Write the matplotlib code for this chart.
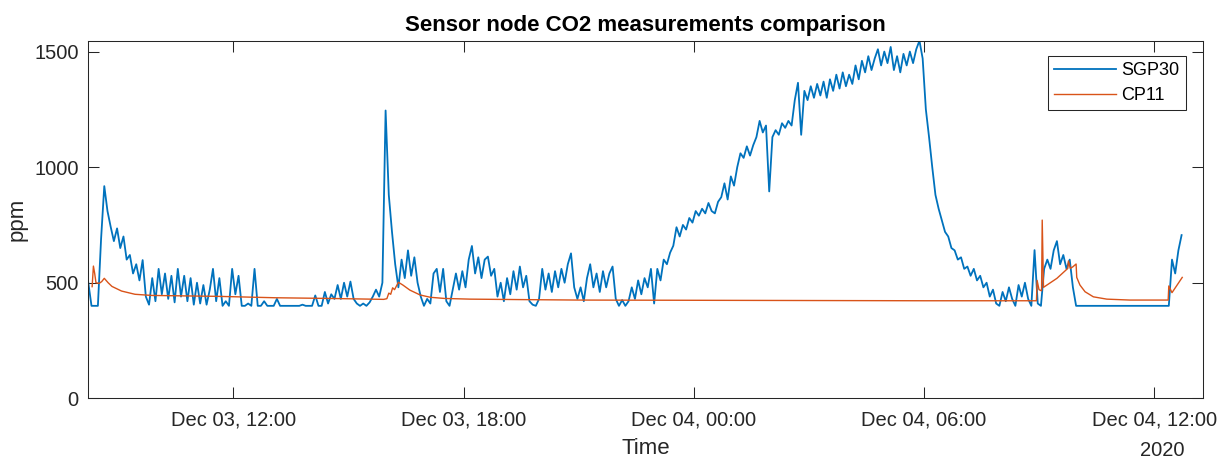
import matplotlib.pyplot as plt
import matplotlib.dates as mdates
import pandas as pd

plt.rcParams['font.family'] = ['Liberation Sans', 'DejaVu Sans']

# SGP30 readings, one every 5 minutes starting at 08:13 on Dec 03
SGP_START = '2020-12-03 08:13'
SGP_STEP = '5min'
sgp30 = [
    500, 400, 400, 400, 690, 918, 810, 742, 680, 735, 650, 700, 600, 620, 540, 580,
    510, 598, 440, 405, 520, 420, 560, 450, 540, 430, 530, 415, 560, 440, 530, 420,
    520, 405, 500, 410, 490, 405, 470, 560, 420, 520, 400, 420, 400, 560, 450, 530,
    400, 400, 410, 400, 560, 400, 400, 420, 400, 400, 400, 430, 400, 400, 400, 400,
    400, 400, 400, 405, 400, 400, 400, 445, 400, 400, 460, 410, 450, 430, 490, 430,
    500, 440, 505, 430, 410, 400, 410, 400, 415, 440, 470, 440, 500, 1245, 880, 720,
    580, 480, 600, 520, 640, 530, 610, 500, 440, 400, 430, 410, 540, 560, 460, 560,
    420, 400, 470, 540, 470, 550, 480, 600, 659, 540, 610, 520, 600, 613, 530, 560,
    440, 500, 420, 520, 450, 550, 470, 570, 480, 530, 420, 405, 400, 430, 560, 470,
    540, 460, 550, 480, 560, 500, 580, 627, 480, 430, 480, 420, 520, 580, 480, 540,
    460, 550, 480, 540, 570, 430, 400, 425, 400, 420, 480, 430, 510, 450, 520, 480,
    560, 410, 560, 510, 600, 580, 630, 660, 740, 700, 750, 730, 780, 760, 810, 790,
    820, 800, 845, 810, 800, 850, 870, 930, 860, 960, 920, 1000, 1060, 1040, 1090, 1050,
    1095, 1130, 1200, 1150, 1180, 895, 1130, 1160, 1140, 1190, 1170, 1200, 1180, 1290, 1365, 1140,
    1330, 1290, 1350, 1300, 1360, 1310, 1370, 1300, 1380, 1330, 1400, 1340, 1410, 1350, 1400, 1360,
    1440, 1380, 1460, 1410, 1480, 1420, 1470, 1510, 1440, 1500, 1450, 1520, 1420, 1480, 1410, 1490,
    1440, 1500, 1450, 1510, 1547, 1470, 1250, 1130, 1000, 880, 820, 770, 720, 700, 650, 640,
    600, 610, 560, 570, 530, 560, 510, 530, 480, 500, 440, 470, 410, 400, 460, 420,
    480, 430, 400, 490, 440, 500, 430, 400, 641, 410, 400, 560, 600, 560, 640, 680,
    580, 620, 560, 600, 480, 400, 400, 400, 400, 400, 400, 400, 400, 400, 400, 400,
    400, 400, 400, 400, 400, 400, 400, 400, 400, 400, 400, 400, 400, 400, 400, 400,
    400, 400, 400, 600, 540, 640, 706,
]

# CP11 readings (smooth reference sensor)
cp11_time = [
    '12-03 08:19', '12-03 08:21', '12-03 08:23', '12-03 08:25', '12-03 08:30',
    '12-03 08:34', '12-03 08:38', '12-03 08:44', '12-03 08:50', '12-03 09:05',
    '12-03 09:26', '12-03 09:52', '12-03 10:44', '12-03 11:36', '12-03 13:05',
    '12-03 14:30', '12-03 15:55', '12-03 16:00', '12-03 16:03', '12-03 16:06',
    '12-03 16:09', '12-03 16:12', '12-03 16:18', '12-03 16:25', '12-03 16:36',
    '12-03 16:52', '12-03 17:08', '12-03 17:30', '12-03 18:10', '12-03 19:30',
    '12-03 21:00', '12-04 00:00', '12-04 03:00', '12-04 06:00', '12-04 08:56',
    '12-04 08:57', '12-04 09:00', '12-04 09:04', '12-04 09:05', '12-04 09:07',
    '12-04 09:28', '12-04 09:45', '12-04 09:46', '12-04 09:49', '12-04 09:53',
    '12-04 09:58', '12-04 09:59', '12-04 10:04', '12-04 10:12', '12-04 10:25',
    '12-04 10:46', '12-04 11:22', '12-04 12:22', '12-04 12:23', '12-04 12:28',
    '12-04 12:44',
]
cp11_ppm = [
    483, 572, 540, 500, 497,
    505, 519, 500, 484, 464,
    450, 445, 443, 441, 435,
    432, 428, 431, 455, 450,
    478, 470, 502, 490, 468,
    447, 437, 432, 429, 427,
    425, 424, 423, 422, 422,
    510, 470, 465, 771, 480,
    519, 562, 594, 562, 569,
    581, 523, 490, 461, 439,
    429, 425, 425, 486, 457,
    523,
]

x_ticks = ['2020-12-03 12:00', '2020-12-03 18:00', '2020-12-04 00:00',
           '2020-12-04 06:00', '2020-12-04 12:00']
y_ticks = [0, 500, 1000, 1500]
x_range = ('2020-12-03 08:13', '2020-12-04 13:16')
y_range = (0, 1547)

t_sgp = pd.date_range(SGP_START, periods=len(sgp30), freq=SGP_STEP)
t_cp = pd.to_datetime(['2020-' + s for s in cp11_time])

INK = '#262626'

fig = plt.figure(figsize=(12.25, 4.59), dpi=100)
ax = fig.add_axes([0.07208, 0.13224, 0.90971, 0.77908])

ax.plot(t_sgp, sgp30, color='#0072BD', lw=1.3, label='SGP30')
ax.plot(t_cp, cp11_ppm, color='#D95319', lw=1.0, label='CP11')

ax.set_xlim(pd.to_datetime(x_range[0]), pd.to_datetime(x_range[1]))
ax.set_ylim(*y_range)
ax.set_xticks(pd.to_datetime(x_ticks))
ax.set_yticks(y_ticks)
ax.xaxis.set_major_formatter(mdates.DateFormatter('%b %d, %H:%M'))

ax.tick_params(direction='in', length=8, width=0.75, colors=INK,
               labelsize=14.5, top=True, right=True, pad=7)
ax.tick_params(axis='x', pad=9)
for s in ax.spines.values():
    s.set_color(INK)
    s.set_linewidth(0.75)

ax.set_title('Sensor node CO2 measurements comparison', fontsize=16,
             fontweight='bold', pad=7)
ax.set_xlabel('Time', fontsize=16, color=INK, labelpad=6)
ax.set_ylabel('ppm', fontsize=16, color=INK, labelpad=5)

fig.text(1162 / 1225, 1 - 450 / 459, '2020', ha='center', va='center',
         fontsize=14.5, color=INK)

leg = ax.legend(loc='upper right', bbox_to_anchor=(0.9847, 0.958),
                borderaxespad=0, fontsize=13, fancybox=False,
                edgecolor=INK, framealpha=1, handlelength=3.4,
                handletextpad=0.3, borderpad=0.35, labelspacing=0.45)
leg.get_frame().set_linewidth(0.75)

fig.savefig('out.png', dpi=100)
